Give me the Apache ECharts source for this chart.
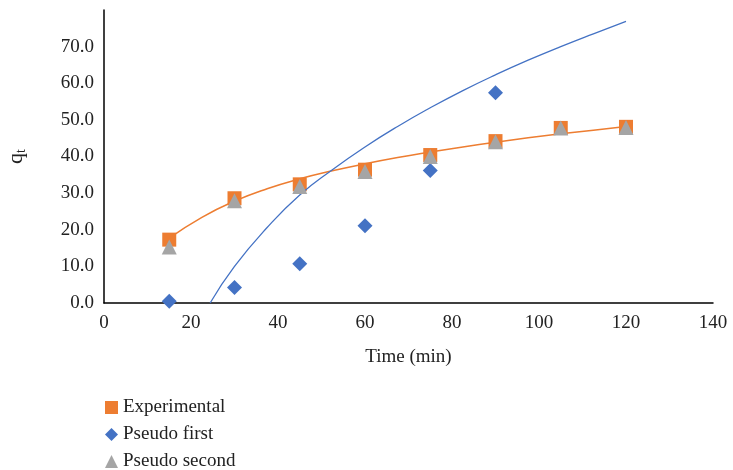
<!DOCTYPE html>
<html>
<head>
    <meta charset="utf-8">
    <title>Kinetics</title>
    <script src="https://cdn.jsdelivr.net/npm/echarts@6/dist/echarts.min.js"></script>
    <style>
        body { margin: 0; background: #fff; }
    </style>
</head>
<body>
    <div id="chart" style="width: 733px; height: 470px;"></div>
    <script>
        var chart = echarts.init(document.getElementById('chart'));

        // time points (min)
        var times = [15, 30, 45, 60, 75, 90, 105, 120];
        var experimental = [17.3, 28.6, 32.4, 36.4, 40.4, 44.2, 47.8, 48.1];
        var pseudoSecond = [15.3, 27.9, 31.8, 35.9, 40.0, 44.0, 47.8, 47.9];
        // pseudo first has only six visible points
        var pseudoFirstTimes = [15, 30, 45, 60, 75, 90];
        var pseudoFirst = [0.5, 4.2, 10.7, 21.1, 36.2, 57.4];

        // fitted curves
        var orangeFitX = [15, 22.5, 30, 37.5, 45, 52.5, 60, 67.5, 75, 82.5, 90, 97.5, 105, 112.5, 120];
        var orangeFitY = [17.7, 23.4, 27.8, 31.2, 33.9, 36.1, 38.0, 39.7, 41.2, 42.6, 43.9, 45.1, 46.2, 47.2, 48.2];
        var blueFitX = [24.4, 30, 37.5, 45, 52.5, 60, 67.5, 75, 82.5, 90, 97.5, 105, 112.5, 120];
        var blueFitY = [0, 10.0, 20.6, 29.5, 36.4, 42.6, 48.2, 53.3, 58.0, 62.3, 66.3, 70.0, 73.5, 76.9];

        function pairs(xs, ys) {
            return xs.map(function (x, i) { return [x, ys[i]]; });
        }

        var font = '"Liberation Serif", "DejaVu Serif", serif';
        var textColor = '#222';

        var option = {
            backgroundColor: '#fff',
            animation: false,
            textStyle: { fontFamily: font },
            grid: { left: 104, right: 20, top: 10, bottom: 167, outerBoundsMode: 'none', containLabel: false },
            legend: {
                data: ['Experimental', 'Pseudo first', 'Pseudo second'],
                orient: 'vertical',
                left: 100,
                top: 393,
                height: 90,
                itemWidth: 13,
                itemHeight: 13,
                itemGap: 8,
                textStyle: { fontFamily: font, fontSize: 19, color: textColor }
            },
            xAxis: {
                type: 'value',
                min: 0,
                max: 140,
                interval: 20,
                name: 'Time (min)',
                nameLocation: 'middle',
                nameGap: 45,
                nameTextStyle: { fontFamily: font, fontSize: 19, color: textColor },
                axisLine: { lineStyle: { color: '#000', width: 1.5 } },
                axisTick: { show: false },
                splitLine: { show: false },
                axisLabel: { fontFamily: font, fontSize: 19, color: textColor, margin: 11 }
            },
            yAxis: {
                type: 'value',
                min: 0,
                max: 80,
                interval: 10,
                name: '{q|q}{t|t}',
                nameLocation: 'middle',
                nameRotate: 90,
                nameGap: 76,
                nameTextStyle: {
                    rich: {
                        q: { fontFamily: font, fontSize: 22, color: textColor },
                        t: { fontFamily: font, fontSize: 14, color: textColor, verticalAlign: 'bottom', padding: [10, 0, 0, 0] }
                    }
                },
                axisLine: { show: true, lineStyle: { color: '#000', width: 1.5 } },
                axisTick: { show: false },
                splitLine: { show: false },
                axisLabel: {
                    fontFamily: font, fontSize: 19, color: textColor, margin: 10,
                    showMaxLabel: false,
                    formatter: function (v) { return v.toFixed(1); }
                }
            },
            series: [
                {
                    name: 'Experimental',
                    type: 'scatter',
                    symbol: 'rect',
                    symbolSize: 14,
                    itemStyle: { color: '#ED7D31', opacity: 1 },
                    z: 2,
                    data: pairs(times, experimental)
                },
                {
                    name: 'orangeFit',
                    type: 'line',
                    showSymbol: false,
                    smooth: true,
                    lineStyle: { color: '#ED7D31', width: 1.5 },
                    z: 3,
                    data: pairs(orangeFitX, orangeFitY)
                },
                {
                    name: 'Pseudo first',
                    type: 'scatter',
                    symbol: 'diamond',
                    symbolSize: 15,
                    itemStyle: { color: '#4472C4', opacity: 1 },
                    z: 4,
                    data: pairs(pseudoFirstTimes, pseudoFirst)
                },
                {
                    name: 'Pseudo second',
                    type: 'scatter',
                    symbol: 'triangle',
                    symbolSize: 15,
                    itemStyle: { color: '#A5A5A5', opacity: 1 },
                    z: 4,
                    data: pairs(times, pseudoSecond)
                },
                {
                    name: 'blueFit',
                    type: 'line',
                    showSymbol: false,
                    smooth: true,
                    lineStyle: { color: '#4472C4', width: 1.3 },
                    z: 3,
                    data: pairs(blueFitX, blueFitY)
                }
            ]
        };

        chart.setOption(option);
    </script>
</body>
</html>
